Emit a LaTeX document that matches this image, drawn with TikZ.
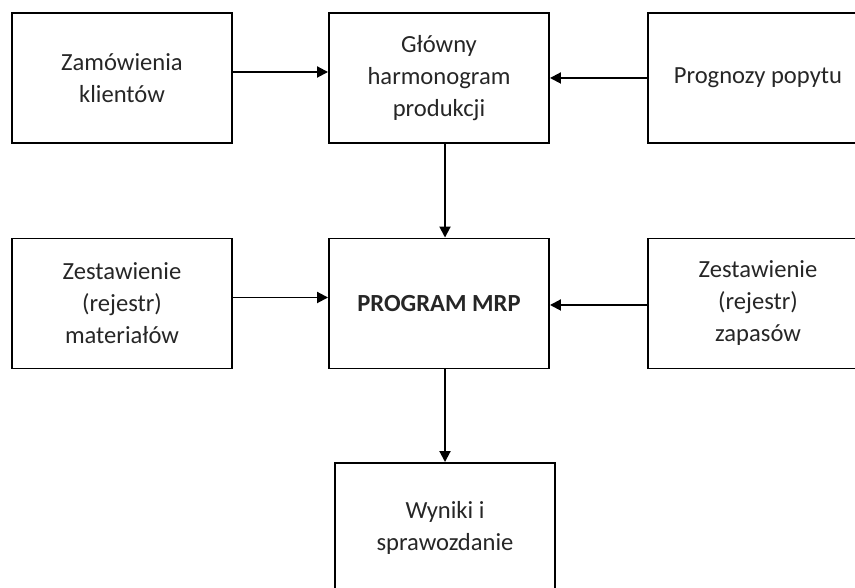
\documentclass[tikz,border=0pt]{standalone}
\usepackage{fontspec}
\setmainfont{Carlito}
\usetikzlibrary{arrows.meta,positioning,calc}

\begin{document}
\begin{tikzpicture}[font=\fontsize{14}{18.2}\selectfont,
  box/.style={draw,line width=1.1pt,minimum width=4.4cm,minimum height=2.6cm,
    align=center,text=black!85},
  arr/.style={-{Triangle[length=2.2mm,width=2.2mm]},line width=1.1pt}]
  \useasboundingbox (0,0) rectangle (17.1,11.76);
  \clip (0,0) rectangle (17.1,11.76);
  % Top row: inputs to the master schedule.
  \node[box] (zam) at (2.44,10.2) {Zamówienia\\klientów};
  \node[box] (glowny) at (8.78,10.2) {Główny\\harmonogram\\produkcji};
  \node[box] (prog) at (15.16,10.2) {Prognozy popytu};
  % Middle row: the MRP program and its records.
  \node[box] (mat) at (2.44,5.69) {Zestawienie\\(rejestr)\\materiałów};
  \node[box] (mrp) at (8.78,5.69) {\textbf{PROGRAM MRP}};
  \node[box] (zap) at (15.16,5.69) {Zestawienie\\(rejestr)\\zapasów};
  % Bottom: the results.
  \node[box] (wyn) at (8.9,1.2) {Wyniki i\\sprawozdanie};
  \draw[arr] ([yshift=1.2mm]zam.east) -- ([yshift=1.2mm]glowny.west);
  \draw[arr] (prog.west) -- (glowny.east);
  \draw[arr] ([yshift=1.2mm]mat.east) -- ([yshift=1.2mm]mrp.west);
  \draw[arr] ([yshift=-0.3mm]zap.west) -- ([yshift=-0.3mm]mrp.east);
  \draw[arr] (glowny.south -| wyn.north) -- (mrp.north -| wyn.north);
  \draw[arr] (mrp.south -| wyn.north) -- (wyn.north);
\end{tikzpicture}
\end{document}
